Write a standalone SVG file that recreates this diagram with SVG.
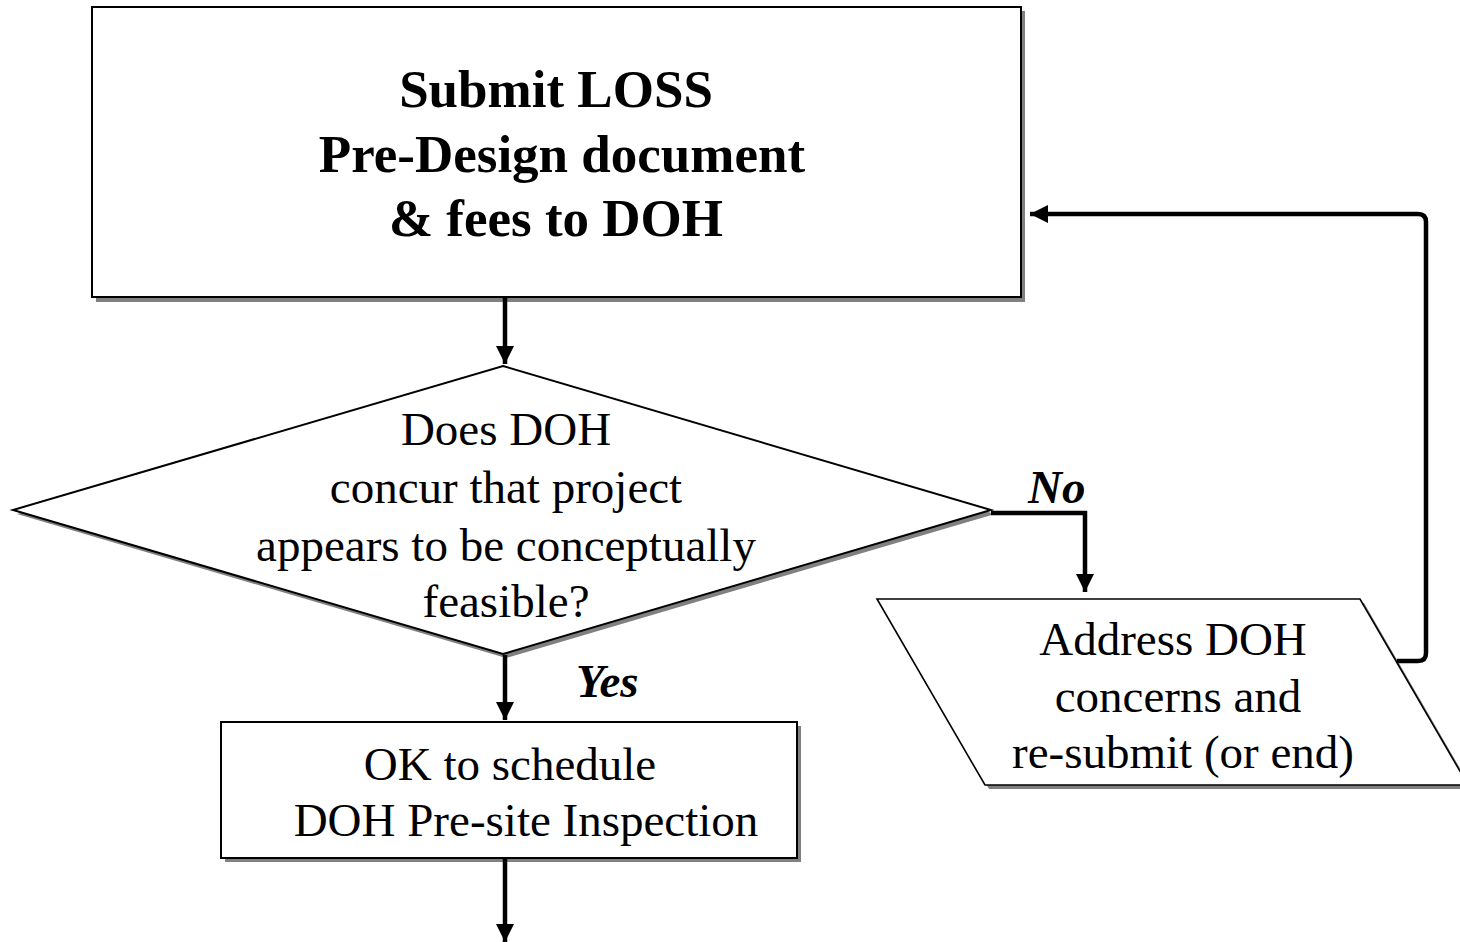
<svg xmlns="http://www.w3.org/2000/svg" width="1460" height="942" viewBox="0 0 1460 942">
<style>
.shadow{fill:#808080;stroke:none}
.shape{fill:#fff;stroke:#000;stroke-width:2}
.para{fill:#fff;stroke:#000;stroke-width:1.6}
.t{font-family:"Liberation Serif","Times New Roman",serif;font-size:47px;fill:#000;text-anchor:middle}
.tb{font-family:"Liberation Serif","Times New Roman",serif;font-size:53px;font-weight:bold;fill:#000;text-anchor:middle}
.lbl{font-family:"Liberation Serif","Times New Roman",serif;font-size:47px;font-weight:bold;font-style:italic;fill:#000}
.conn{fill:none;stroke:#000;stroke-width:4.5}
</style>
<defs>
<marker id="ah" viewBox="0 0 10 10" refX="10" refY="5" markerWidth="4" markerHeight="4" orient="auto" markerUnits="strokeWidth">
<path d="M0,0 L10,5 L0,10 Z" fill="#000"/>
</marker>
</defs>
<rect width="1460" height="942" fill="#fff"/>
<g id="node-submit">
<rect class="shadow" x="96" y="11" width="929" height="291"/>
<rect class="shape" x="92" y="7" width="929" height="290"/>
<text class="tb" x="556" y="107">Submit LOSS</text>
<text class="tb" x="562" y="172">Pre-Design document</text>
<text class="tb" x="556" y="236">&amp; fees to DOH</text>
</g>
<g id="node-decision">
<polygon class="shadow" points="506,370 995,514 506,658 17,514"/>
<polygon class="shape" points="503,366 991,510 503,654 13,510"/>
<text class="t" x="506" y="445">Does DOH</text>
<text class="t" x="506" y="503">concur that project</text>
<text class="t" x="506" y="561">appears to be conceptually</text>
<text class="t" x="506" y="617">feasible?</text>
</g>
<g id="node-address">
<polygon class="shadow" points="881,603 1364,603 1472,789 989,789"/>
<polygon class="para" points="877,599 1360,599 1468,785 985,785"/>
<text class="t" x="1173" y="655">Address DOH</text>
<text class="t" x="1178" y="712">concerns and</text>
<text class="t" x="1183" y="768">re-submit (or end)</text>
</g>
<g id="node-schedule">
<rect class="shadow" x="225" y="726" width="576" height="136"/>
<rect class="shape" x="221" y="722" width="576" height="136"/>
<text class="t" x="510" y="780">OK to schedule</text>
<text class="t" x="526" y="836">DOH Pre-site Inspection</text>
</g>
<g id="connectors">
<path class="conn" d="M505,298 L505,364" marker-end="url(#ah)"/>
<path class="conn" d="M991,513 L1085,513 L1085,592" marker-end="url(#ah)"/>
<path class="conn" d="M1397,661 L1418,661 Q1426,661 1426,653 L1426,222 Q1426,214 1418,214 L1030,214" marker-end="url(#ah)"/>
<path class="conn" d="M505,655 L505,720" marker-end="url(#ah)"/>
<path class="conn" d="M505,859 L505,942" marker-end="url(#ah)"/>
<text class="lbl" x="1028" y="503">No</text>
<text class="lbl" x="576" y="697">Yes</text>
</g>
</svg>
